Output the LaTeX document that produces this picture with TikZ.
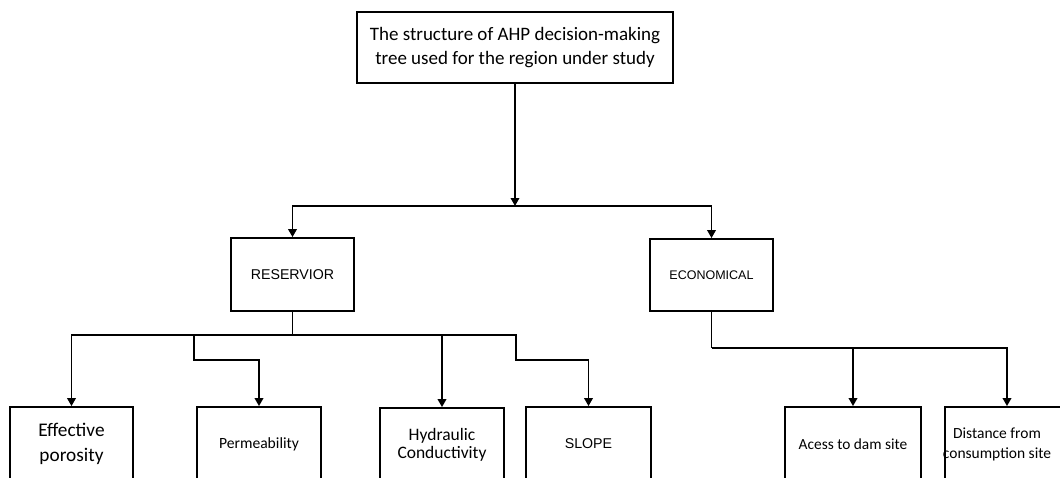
\documentclass[tikz,border=0pt]{standalone}
\usepackage{fontspec}
\setmainfont{Carlito}
\newfontfamily\arialfont{Liberation Sans}
\usetikzlibrary{arrows.meta}
\tikzset{
  box/.style={draw=black, line width=1.8pt, fill=white, inner sep=0pt, align=center, font=\fontsize{16}{24}\selectfont},
  capbox/.style={box, font=\arialfont\fontsize{14.2}{16}\selectfont},
  conn/.style={draw=black, line width=1.8pt},
  arr/.style={conn, -{Triangle[width=8.5pt,length=8pt]}},
}
\begin{document}
\begin{tikzpicture}[x=1pt,y=-1pt]
\useasboundingbox (0,0) rectangle (1060,477);
\clip (0,0) rectangle (1060,477);
% top
\node[box, minimum width=316pt, minimum height=71pt, font=\fontsize{19}{24}\selectfont] (top) at (515,47.5) {\raisebox{-2.5pt}{\begin{tabular}{@{}c@{}}The structure of AHP decision-making\\tree used for the region under study\end{tabular}}};
% level 2
\node[capbox, minimum width=123pt, minimum height=73pt] (res) at (292.5,274.5) {RESERVIOR};
\node[capbox, minimum width=123pt, minimum height=72pt, font=\arialfont\fontsize{12.5}{16}\selectfont] (eco) at (711.5,275) {ECONOMICAL};
% level 3
\node[box, minimum width=123pt, minimum height=74pt, font=\fontsize{19.3}{24.5}\selectfont] (eff) at (71.5,444) {Effective\\porosity};
\node[box, minimum width=124pt, minimum height=74pt, font=\fontsize{15.6}{24}\selectfont] (perm) at (259,444) {Permeability};
\node[box, minimum width=124pt, minimum height=74pt, font=\fontsize{17.5}{18.5}\selectfont] (hyd) at (442,445) {Hydraulic\\Conductivity};
\node[capbox, minimum width=125pt, minimum height=74pt] (slope) at (588.5,444) {SLOPE};
\node[box, minimum width=136pt, minimum height=74pt, font=\fontsize{15.4}{24}\selectfont] (acc) at (853,444) {Acess to dam site};
\node[box, minimum width=124pt, minimum height=74pt] (dist) at (1007,444) {};
\node[font=\fontsize{15.5}{20}\selectfont, align=center, inner sep=0pt] (distt) at (997,444) {Distance from\\consumption site};
% junctions
\coordinate (j1) at (515,206);
\coordinate (j2) at (292.5,335);
\coordinate (j3) at (711.5,348);
\coordinate (k1) at (194,360);
\coordinate (k2) at (516,360);
% connectors
\draw[arr] (top.south) -- (j1);
\draw[arr] (j1) -| (res.north);
\draw[arr] (j1) -| (eco.north);
\draw[conn] (res.south) -- (j2);
\draw[arr] (j2) -| (eff.north);
\draw[arr] (j2) -| (hyd.north);
\draw[arr] (j2) -| (k1) -| (perm.north);
\draw[arr] (j2) -| (k2) -| (slope.north);
\draw[conn] (eco.south) -- (j3);
\draw[arr] (j3) -| (acc.north);
\draw[arr] (j3) -| (dist.north);
\end{tikzpicture}
\end{document}
